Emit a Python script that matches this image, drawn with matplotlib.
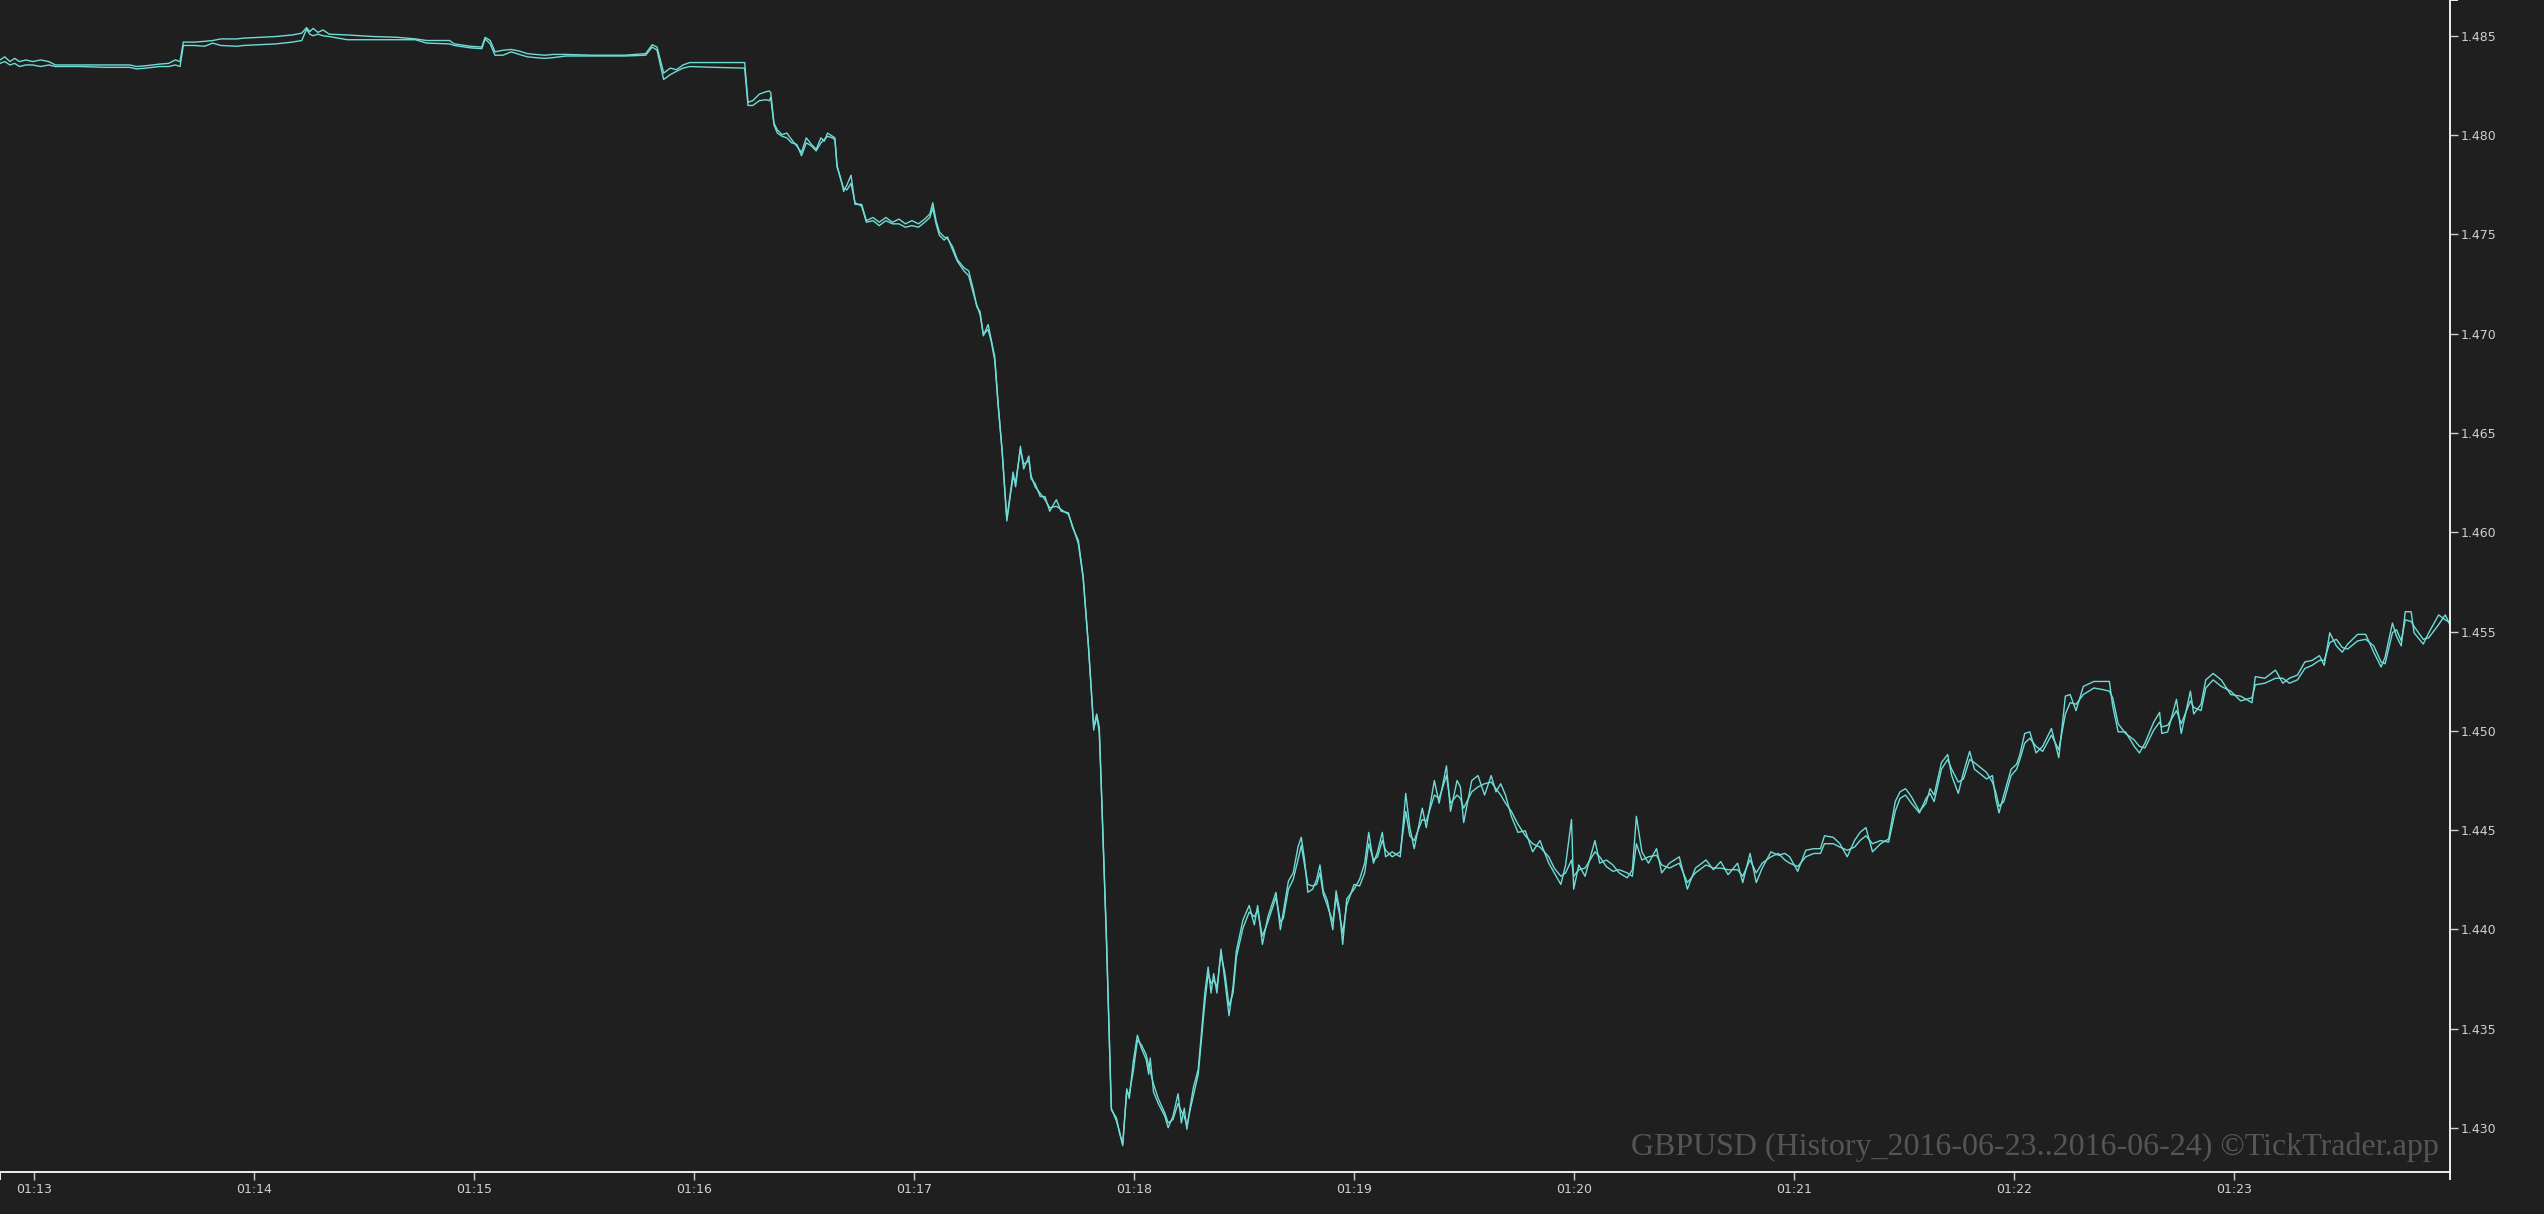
import matplotlib
matplotlib.use('Agg')
import matplotlib.pyplot as plt

# seconds after 01:12:00 (GBPUSD ticks, 2016-06-24)
secs = [
    50.7, 52.0, 53.4, 54.7, 56.0, 57.8, 59.6, 61.8, 64.0, 65.8,
    72.8, 79.5, 86.1, 87.9, 90.5, 94.1, 96.7, 98.5, 99.8, 100.7,
    103.8, 106.5, 108.7, 110.9, 115.3, 117.1, 121.5, 125.9, 130.4, 133.0,
    134.3, 135.2, 136.1, 137.4, 138.8, 140.5, 145.4, 152.5, 159.1, 164.0,
    167.1, 173.3, 174.6, 179.0, 182.1, 183.0, 184.4, 185.7, 187.9, 190.1,
    192.3, 194.5, 196.7, 199.4, 201.6, 205.1, 212.2, 221.1, 226.8, 228.6,
    229.9, 231.7, 233.5, 235.2, 237.0, 238.8, 245.4, 253.8, 254.7, 256.0,
    257.8, 259.6, 260.5, 260.9, 261.8, 262.7, 264.0, 265.3, 266.6, 268.0,
    269.3, 270.6, 272.0, 273.3, 274.6, 275.5, 276.4, 277.7, 278.4, 279.0,
    279.9, 280.8, 281.7, 282.8, 283.9, 285.7, 287.0, 288.8, 290.5, 292.3,
    294.1, 295.9, 297.6, 299.4, 301.2, 302.9, 304.3, 305.1, 306.0, 306.9,
    308.2, 309.1, 310.5, 311.8, 313.6, 314.9, 316.2, 317.1, 318.0, 318.9,
    320.2, 321.1, 322.0, 322.9, 324.0, 325.3, 326.2, 327.0, 327.7, 329.0,
    329.9, 331.3, 331.9, 333.0, 334.4, 335.7, 337.0, 338.8, 340.1, 342.1,
    343.2, 344.8, 346.1, 347.6, 349.0, 349.4, 349.8, 350.5, 351.0, 352.5,
    353.8, 355.2, 356.0, 356.9, 358.0, 358.7, 359.8, 360.9, 362.0, 363.3,
    364.0, 364.4, 365.3, 366.6, 368.4, 369.3, 370.6, 372.0, 372.9, 373.7,
    374.4, 375.3, 376.2, 377.5, 378.4, 379.3, 380.2, 381.0, 381.7, 382.6,
    383.7, 384.8, 385.9, 387.0, 387.9, 389.7, 391.4, 392.8, 393.7, 395.0,
    396.5, 398.7, 399.9, 400.7, 402.1, 403.4, 404.7, 405.6, 406.5, 407.4,
    408.7, 409.8, 410.7, 411.6, 412.7, 414.2, 415.1, 416.0, 416.9, 418.0,
    420.0, 421.5, 422.9, 424.0, 425.3, 426.4, 427.7, 428.6, 430.4, 432.6,
    434.1, 435.2, 436.4, 438.6, 439.7, 441.9, 443.2, 445.2, 446.3, 448.1,
    449.0, 449.9, 452.1, 453.8, 455.6, 457.4, 458.7, 460.0, 461.3, 462.9,
    464.7, 466.7, 468.7, 470.7, 473.1, 474.6, 476.4, 477.7, 479.3, 479.9,
    481.3, 483.0, 485.7, 487.0, 488.8, 490.6, 492.3, 494.5, 495.9, 497.0,
    498.5, 500.3, 502.5, 503.9, 506.0, 508.7, 510.9, 513.1, 516.0, 518.0,
    520.0, 522.0, 524.6, 526.0, 528.0, 529.7, 531.3, 533.7, 535.7, 537.5,
    538.8, 541.0, 543.2, 545.4, 547.2, 548.3, 550.7, 552.5, 554.5, 556.5,
    558.0, 559.6, 561.4, 563.6, 565.8, 567.6, 568.9, 570.4, 572.0, 574.2,
    576.0, 577.1, 578.2, 580.2, 581.9, 583.0, 584.8, 586.2, 587.9, 589.2,
    592.5, 594.1, 595.0, 595.9, 597.2, 599.2, 600.7, 601.6, 602.9, 604.3,
    606.0, 607.8, 610.2, 612.2, 614.0, 615.3, 616.9, 618.9, 621.8, 624.2,
    626.0, 626.9, 628.4, 630.4, 632.8, 634.2, 635.7, 638.1, 639.7, 640.3,
    641.9, 644.3, 645.6, 648.1, 649.0, 651.0, 652.3, 654.3, 656.5, 659.1,
    661.8, 664.9, 665.8, 668.4, 671.3, 673.3, 675.1, 677.3, 679.3, 681.3,
    683.3, 684.6, 686.1, 687.9, 689.5, 691.0, 693.7, 695.9, 698.1, 700.1,
    701.2, 703.2, 704.3, 705.6, 706.7, 708.3, 709.1, 711.6, 713.1, 715.8,
    717.6, 719.1,
]

ask = [
    1.48378, 1.48394, 1.48370, 1.48386, 1.48370, 1.48378, 1.48370, 1.48378, 1.48370, 1.48353,
    1.48353, 1.48353, 1.48353, 1.48345, 1.48349, 1.48357, 1.48361, 1.48378, 1.48370, 1.48468,
    1.48468, 1.48472, 1.48476, 1.48484, 1.48484, 1.48488, 1.48492, 1.48496, 1.48504, 1.48513,
    1.48541, 1.48521, 1.48537, 1.48517, 1.48529, 1.48508, 1.48504, 1.48496, 1.48492, 1.48484,
    1.48476, 1.48476, 1.48459, 1.48447, 1.48443, 1.48492, 1.48476, 1.48419, 1.48427, 1.48431,
    1.48423, 1.48410, 1.48406, 1.48402, 1.48406, 1.48406, 1.48402, 1.48402, 1.48410, 1.48455,
    1.48443, 1.48312, 1.48337, 1.48329, 1.48353, 1.48365, 1.48365, 1.48365, 1.48165, 1.48173,
    1.48206, 1.48218, 1.48222, 1.48214, 1.48059, 1.48026, 1.48002, 1.48010, 1.47977, 1.47945,
    1.47912, 1.47986, 1.47953, 1.47928, 1.47986, 1.47969, 1.48010, 1.47994, 1.47986, 1.47838,
    1.47789, 1.47716, 1.47749, 1.47798, 1.47651, 1.47651, 1.47569, 1.47585, 1.47561, 1.47585,
    1.47561, 1.47577, 1.47553, 1.47569, 1.47553, 1.47577, 1.47602, 1.47659, 1.47569, 1.47512,
    1.47487, 1.47479, 1.47438, 1.47373, 1.47332, 1.47316, 1.47218, 1.47136, 1.47111, 1.46989,
    1.47046, 1.46964, 1.46883, 1.46654, 1.46417, 1.46066, 1.46188, 1.46303, 1.46229, 1.46433,
    1.46319, 1.46384, 1.46270, 1.46245, 1.46180, 1.46180, 1.46106, 1.46164, 1.46106, 1.46098,
    1.46025, 1.45959, 1.45780, 1.45420, 1.45004, 1.45053, 1.45085, 1.45020, 1.44758, 1.43941,
    1.43100, 1.43035, 1.42985, 1.42912, 1.43198, 1.43149, 1.43337, 1.43468, 1.43402, 1.43345,
    1.43271, 1.43353, 1.43182, 1.43124, 1.43059, 1.43002, 1.43059, 1.43173, 1.43026, 1.43100,
    1.42994, 1.43108, 1.43206, 1.43296, 1.43484, 1.43680, 1.43811, 1.43680, 1.43778, 1.43680,
    1.43901, 1.43737, 1.43566, 1.43713, 1.43892, 1.44048, 1.44121, 1.44023, 1.44121, 1.43925,
    1.44064, 1.44187, 1.43999, 1.44088, 1.44244, 1.44285, 1.44415, 1.44464, 1.44350, 1.44187,
    1.44203, 1.44252, 1.44325, 1.44195, 1.44146, 1.43999, 1.44195, 1.44105, 1.43925, 1.44154,
    1.44203, 1.44252, 1.44334, 1.44489, 1.44334, 1.44391, 1.44489, 1.44366, 1.44391, 1.44366,
    1.44685, 1.44513, 1.44407, 1.44611, 1.44513, 1.44750, 1.44636, 1.44824, 1.44595, 1.44750,
    1.44718, 1.44538, 1.44750, 1.44775, 1.44677, 1.44775, 1.44693, 1.44734, 1.44677, 1.44570,
    1.44489, 1.44497, 1.44391, 1.44448, 1.44334, 1.44285, 1.44227, 1.44325, 1.44554, 1.44203,
    1.44325, 1.44268, 1.44448, 1.44334, 1.44350, 1.44325, 1.44285, 1.44260, 1.44301, 1.44570,
    1.44391, 1.44334, 1.44407, 1.44285, 1.44334, 1.44366, 1.44203, 1.44309, 1.44350, 1.44301,
    1.44342, 1.44276, 1.44334, 1.44236, 1.44383, 1.44236, 1.44309, 1.44391, 1.44374, 1.44383,
    1.44366, 1.44293, 1.44399, 1.44407, 1.44407, 1.44472, 1.44464, 1.44432, 1.44366, 1.44448,
    1.44489, 1.44513, 1.44391, 1.44432, 1.44456, 1.44644, 1.44693, 1.44709, 1.44669, 1.44595,
    1.44636, 1.44709, 1.44677, 1.44840, 1.44881, 1.44775, 1.44685, 1.44791, 1.44897, 1.44807,
    1.44758, 1.44775, 1.44660, 1.44587, 1.44677, 1.44807, 1.44832, 1.44881, 1.44987, 1.44995,
    1.44889, 1.44922, 1.45012, 1.44865, 1.45175, 1.45183, 1.45102, 1.45224, 1.45249, 1.45249,
    1.45249, 1.45126, 1.44995, 1.44995, 1.44922, 1.44889, 1.44938, 1.45044, 1.45093, 1.44987,
    1.44995, 1.45159, 1.44987, 1.45200, 1.45085, 1.45134, 1.45257, 1.45289, 1.45257, 1.45183,
    1.45175, 1.45142, 1.45273, 1.45265, 1.45306, 1.45240, 1.45265, 1.45281, 1.45347, 1.45355,
    1.45379, 1.45330, 1.45494, 1.45428, 1.45396, 1.45437, 1.45486, 1.45486, 1.45396, 1.45322,
    1.45371, 1.45543, 1.45477, 1.45428, 1.45600, 1.45600, 1.45494, 1.45437, 1.45494, 1.45584,
    1.45559, 1.45543,
]

bid = [
    1.48361, 1.48370, 1.48353, 1.48361, 1.48345, 1.48353, 1.48353, 1.48345, 1.48353, 1.48345,
    1.48345, 1.48341, 1.48341, 1.48333, 1.48337, 1.48345, 1.48345, 1.48353, 1.48345, 1.48451,
    1.48451, 1.48447, 1.48463, 1.48451, 1.48447, 1.48451, 1.48455, 1.48459, 1.48468, 1.48476,
    1.48533, 1.48508, 1.48500, 1.48508, 1.48500, 1.48496, 1.48480, 1.48480, 1.48480, 1.48480,
    1.48463, 1.48459, 1.48451, 1.48439, 1.48435, 1.48484, 1.48459, 1.48402, 1.48402, 1.48419,
    1.48406, 1.48394, 1.48390, 1.48386, 1.48390, 1.48398, 1.48398, 1.48398, 1.48402, 1.48443,
    1.48427, 1.48280, 1.48304, 1.48321, 1.48337, 1.48345, 1.48341, 1.48337, 1.48149, 1.48149,
    1.48173, 1.48178, 1.48173, 1.48190, 1.48051, 1.48010, 1.47994, 1.47986, 1.47961, 1.47953,
    1.47896, 1.47961, 1.47945, 1.47920, 1.47961, 1.47977, 1.47994, 1.47986, 1.47977, 1.47847,
    1.47781, 1.47732, 1.47724, 1.47757, 1.47659, 1.47642, 1.47561, 1.47569, 1.47544, 1.47569,
    1.47553, 1.47553, 1.47536, 1.47544, 1.47536, 1.47561, 1.47585, 1.47634, 1.47553, 1.47495,
    1.47471, 1.47487, 1.47422, 1.47365, 1.47316, 1.47291, 1.47201, 1.47144, 1.47095, 1.46997,
    1.47021, 1.46956, 1.46866, 1.46646, 1.46409, 1.46057, 1.46180, 1.46278, 1.46254, 1.46417,
    1.46343, 1.46360, 1.46286, 1.46229, 1.46196, 1.46164, 1.46123, 1.46131, 1.46115, 1.46090,
    1.46033, 1.45943, 1.45771, 1.45412, 1.45020, 1.45036, 1.45077, 1.44995, 1.44750, 1.43925,
    1.43092, 1.43051, 1.42977, 1.42920, 1.43182, 1.43173, 1.43288, 1.43443, 1.43419, 1.43370,
    1.43312, 1.43288, 1.43222, 1.43149, 1.43075, 1.43026, 1.43043, 1.43124, 1.43084, 1.43059,
    1.43010, 1.43092, 1.43165, 1.43271, 1.43451, 1.43631, 1.43778, 1.43729, 1.43745, 1.43713,
    1.43876, 1.43778, 1.43615, 1.43680, 1.43860, 1.44007, 1.44088, 1.44064, 1.44097, 1.43966,
    1.44039, 1.44162, 1.44039, 1.44056, 1.44203, 1.44252, 1.44350, 1.44423, 1.44325, 1.44227,
    1.44219, 1.44227, 1.44285, 1.44178, 1.44121, 1.44039, 1.44162, 1.44080, 1.43982, 1.44121,
    1.44227, 1.44219, 1.44285, 1.44432, 1.44350, 1.44366, 1.44448, 1.44399, 1.44366, 1.44391,
    1.44595, 1.44472, 1.44448, 1.44554, 1.44546, 1.44677, 1.44660, 1.44775, 1.44636, 1.44677,
    1.44660, 1.44611, 1.44693, 1.44718, 1.44734, 1.44742, 1.44709, 1.44677, 1.44636, 1.44595,
    1.44530, 1.44472, 1.44432, 1.44415, 1.44366, 1.44309, 1.44268, 1.44285, 1.44350, 1.44268,
    1.44301, 1.44309, 1.44391, 1.44366, 1.44317, 1.44293, 1.44301, 1.44285, 1.44268, 1.44432,
    1.44350, 1.44366, 1.44374, 1.44325, 1.44309, 1.44334, 1.44236, 1.44285, 1.44325, 1.44309,
    1.44309, 1.44301, 1.44301, 1.44268, 1.44350, 1.44285, 1.44334, 1.44366, 1.44383, 1.44350,
    1.44334, 1.44317, 1.44366, 1.44383, 1.44383, 1.44432, 1.44432, 1.44415, 1.44399, 1.44415,
    1.44448, 1.44472, 1.44432, 1.44448, 1.44440, 1.44595, 1.44660, 1.44677, 1.44636, 1.44587,
    1.44660, 1.44685, 1.44644, 1.44807, 1.44856, 1.44807, 1.44742, 1.44758, 1.44856, 1.44840,
    1.44791, 1.44742, 1.44693, 1.44620, 1.44644, 1.44775, 1.44807, 1.44856, 1.44938, 1.44963,
    1.44922, 1.44897, 1.44979, 1.44905, 1.45085, 1.45142, 1.45134, 1.45183, 1.45216, 1.45208,
    1.45200, 1.45167, 1.45036, 1.44987, 1.44954, 1.44922, 1.44914, 1.45004, 1.45044, 1.45020,
    1.45028, 1.45102, 1.45036, 1.45151, 1.45118, 1.45102, 1.45216, 1.45257, 1.45224, 1.45200,
    1.45151, 1.45167, 1.45232, 1.45240, 1.45265, 1.45265, 1.45240, 1.45257, 1.45314, 1.45330,
    1.45355, 1.45355, 1.45445, 1.45461, 1.45420, 1.45412, 1.45453, 1.45461, 1.45428, 1.45347,
    1.45338, 1.45494, 1.45510, 1.45453, 1.45559, 1.45551, 1.45526, 1.45461, 1.45469, 1.45535,
    1.45584, 1.45526,
]

time_ticks = [60, 120, 180, 240, 300, 360, 420, 480, 540, 600, 660]
time_labels = ['01:13', '01:14', '01:15', '01:16', '01:17', '01:18',
               '01:19', '01:20', '01:21', '01:22', '01:23']
price_ticks = [1.430, 1.435, 1.440, 1.445, 1.450, 1.455,
               1.460, 1.465, 1.470, 1.475, 1.480, 1.485]
x_range = (50.7, 718.9)
y_range = (1.42779, 1.48680)
watermark = 'GBPUSD (History_2016-06-23..2016-06-24) ©TickTrader.app'

bg = '#1f1f1f'
line_color = '#6fdcd6'
tick_font = ['Liberation Sans Narrow', 'DejaVu Sans']

W, H = 2544, 1214
fig = plt.figure(figsize=(W / 100, H / 100), dpi=100, facecolor=bg)
ax = fig.add_axes([0, 42 / H, 2450 / W, 1 - 42 / H])
ax.set_facecolor(bg)

ax.plot(secs, bid, color=line_color, lw=1.0)
ax.plot(secs, ask, color=line_color, lw=1.0)

ax.set_xlim(*x_range)
ax.set_ylim(*y_range)

for side in ['left', 'top']:
    ax.spines[side].set_visible(False)
for side in ['right', 'bottom']:
    ax.spines[side].set_color('#ffffff')
    ax.spines[side].set_linewidth(1.3)

ax.yaxis.tick_right()
ax.set_xticks(time_ticks, time_labels)
ax.set_yticks(price_ticks, [f'{p:.3f}' for p in price_ticks])
# outer ticks at the ends of the axes, d3 style
ax.set_xticks(list(x_range), minor=True)
ax.set_yticks([y_range[1]], minor=True)
ax.tick_params(which='both', colors='#cfcfcf', length=6, width=1, pad=2, labelsize=9)
ax.tick_params(which='minor', colors='#ffffff', width=1.3)
for lab in ax.get_xticklabels() + ax.get_yticklabels():
    lab.set_family(tick_font)

fig.text(2439 / W, (H - 1155) / H, watermark, ha='right', va='baseline',
         family=['Liberation Serif', 'DejaVu Serif'], fontsize=23, color='#555555')

fig.savefig('out.png', dpi=100, facecolor=bg)
